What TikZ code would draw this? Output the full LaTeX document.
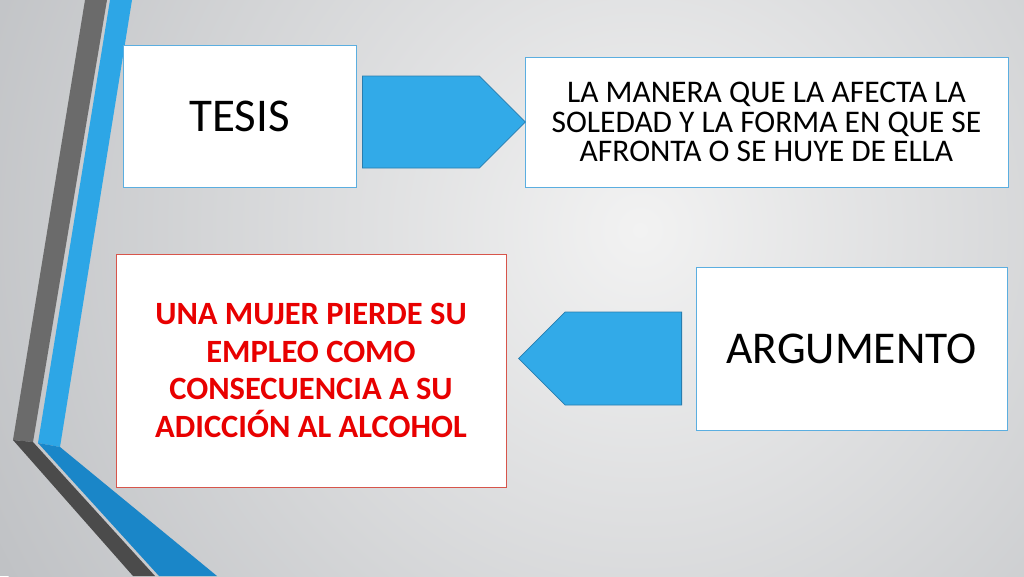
\documentclass[tikz,border=0pt]{standalone}
\usepackage{fontspec}
\setmainfont{Carlito}
\usetikzlibrary{shapes.symbols}
\definecolor{bgdark}{RGB}{192,194,197}
\definecolor{bglight}{RGB}{242,242,242}
\definecolor{grayup}{RGB}{107,107,107}
\definecolor{graylow}{RGB}{75,75,75}
\definecolor{blueup}{RGB}{45,166,230}
\definecolor{bluelow}{RGB}{26,134,200}
\definecolor{boxblue}{RGB}{91,174,224}
\definecolor{boxred}{RGB}{215,85,75}
\definecolor{arrowfill}{RGB}{50,170,232}
\definecolor{arrowline}{RGB}{40,125,175}
\definecolor{redtext}{RGB}{232,0,0}
\tikzset{
  bluebox/.style={draw=boxblue, line width=1pt, fill=white, inner sep=0pt, align=center},
  redbox/.style={draw=boxred, line width=1pt, fill=white, inner sep=0pt, align=center},
  blockarrow/.style={shape=signal, signal pointer angle=90, fill=arrowfill, draw=arrowline, line width=0.8pt, inner sep=0pt},
  tesisfont/.style={font=\fontsize{47}{50}\selectfont},
  argfont/.style={font=\fontsize{45.5}{50}\selectfont},
  midtext/.style={font=\fontsize{31.5}{29.5}\selectfont},
  redfont/.style={text=redtext, font=\fontsize{32.5}{37.7}\selectfont\bfseries}
}
\begin{document}
\begin{tikzpicture}[x=1pt,y=-1pt]
\useasboundingbox (0,0) rectangle (1024,576);
% background
\fill[bgdark] (0,0) rectangle (1024,576);
\begin{scope}
\clip (0,0) rectangle (1024,576);
\shade[inner color=bglight, outer color=bgdark] (640,230) circle (720);
\end{scope}
% decorative stripes
\fill[grayup] (85,0) -- (107,0) -- (33,442) -- (13,440) -- cycle;
\fill[graylow] (13,440) -- (33,442) -- (155,576) -- (133,576) -- cycle;
\fill[blueup] (110,0) -- (132,0) -- (60,447) -- (38,443) -- cycle;
\fill[bluelow] (38,443) -- (60,447) -- (217,576) -- (159,576) -- cycle;
% boxes
\node[bluebox, minimum width=233pt, minimum height=142pt, tesisfont] (tesis) at (239.5,116) {TESIS};
\node[bluebox, minimum width=483pt, minimum height=130pt, midtext] (tesistext) at (766.5,122)
  {LA MANERA QUE LA AFECTA LA\\SOLEDAD Y LA FORMA EN QUE SE\\AFRONTA O SE HUYE DE ELLA};
\node[redbox, minimum width=390pt, minimum height=233pt, redfont] (argtext) at (311,370.5)
  {UNA MUJER PIERDE SU\\EMPLEO COMO\\CONSECUENCIA A SU\\ADICCIÓN AL ALCOHOL};
\node[bluebox, minimum width=311pt, minimum height=163pt, argfont] (arg) at (851.5,348.5) {ARGUMENTO};
% block arrows
\node[blockarrow, signal to=east, minimum width=163pt, minimum height=92pt, anchor=west] (arrowA) at (362,122) {};
\node[blockarrow, signal to=west, minimum width=163pt, minimum height=93pt, anchor=east] (arrowB) at (682,358.5) {};
\end{tikzpicture}
\end{document}
